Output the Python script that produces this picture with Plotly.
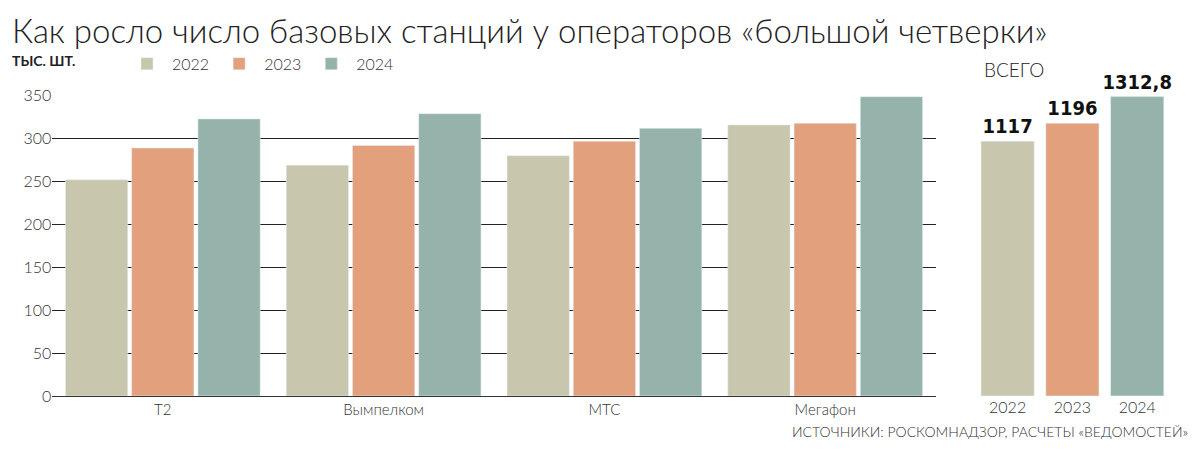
import plotly.graph_objects as go

operators = ["Т2", "Вымпелком", "МТС", "Мегафон"]
years = ["2022", "2023", "2024"]
vals_2022 = [252, 269, 280, 316]
vals_2023 = [289, 292, 297, 318]
vals_2024 = [323, 329, 312, 348.8]
totals = [1117, 1196, 1312.8]
total_labels = ["1117", "1196", "1312,8"]
colors = ["#c8c6ad", "#e3a07c", "#95b3aa"]

fig = go.Figure()
for yr, vals, c in zip(years, [vals_2022, vals_2023, vals_2024], colors):
    fig.add_trace(go.Bar(x=operators, y=vals, name=yr, marker_color=c,
                         xaxis="x", yaxis="y"))

fig.add_trace(go.Bar(x=years, y=totals, marker_color=colors, showlegend=False,
                     text=total_labels, textposition="outside", constraintext="none",
                     textfont=dict(size=20, color="#111", family="DejaVu Sans Condensed, Arial", weight="bold"),
                     cliponaxis=False, xaxis="x2", yaxis="y2", width=0.82))

fig.update_layout(
    width=1200, height=450, margin=dict(l=0, r=0, t=0, b=0, autoexpand=False),
    paper_bgcolor="white", plot_bgcolor="white",
    font=dict(family="Lato, Open Sans, sans-serif", color="#333", size=15, weight=300),
    barmode="group", bargap=0.1, bargroupgap=0.06,
    xaxis=dict(domain=[0.037, 0.773], showline=True, linecolor="#333", ticks="",
               tickfont=dict(size=15)),
    yaxis=dict(domain=[0.138, 0.805], range=[0, 350], dtick=50, showgrid=True,
               gridcolor="#222", gridwidth=1, zeroline=False, ticks="",
               tickfont=dict(size=16)),
    xaxis2=dict(domain=[0.806, 0.968], anchor="y2", showline=False, ticks="",
                tickfont=dict(size=16)),
    yaxis2=dict(domain=[0.138, 0.805], range=[0, 1312.8 * 350 / 349], anchor="x2",
                visible=False),
    legend=dict(orientation="h", x=0.095, y=0.876, xanchor="left", yanchor="middle",
                font=dict(size=16), itemwidth=40, tracegroupgap=0),
    annotations=[
        dict(text="Как росло число базовых станций у операторов «большой четверки»",
             xref="paper", yref="paper", x=0.002, y=1.0, xanchor="left", yanchor="top",
             showarrow=False, font=dict(size=33, color="#222", weight=300)),
        dict(text="<b>ТЫС. ШТ.</b>", xref="paper", yref="paper", x=0.002, y=0.883,
             xanchor="left", yanchor="middle", showarrow=False, font=dict(size=14, color="#222")),
        dict(text="ВСЕГО", xref="paper", yref="paper", x=0.812, y=0.863,
             xanchor="left", yanchor="middle", showarrow=False, font=dict(size=19, color="#222")),
        dict(text="ИСТОЧНИКИ: РОСКОМНАДЗОР, РАСЧЕТЫ «ВЕДОМОСТЕЙ»", xref="paper", yref="paper",
             x=0.985, y=0.058, xanchor="right", yanchor="middle", showarrow=False,
             font=dict(size=14, color="#333")),
    ],
)

fig.write_html("out.html")
